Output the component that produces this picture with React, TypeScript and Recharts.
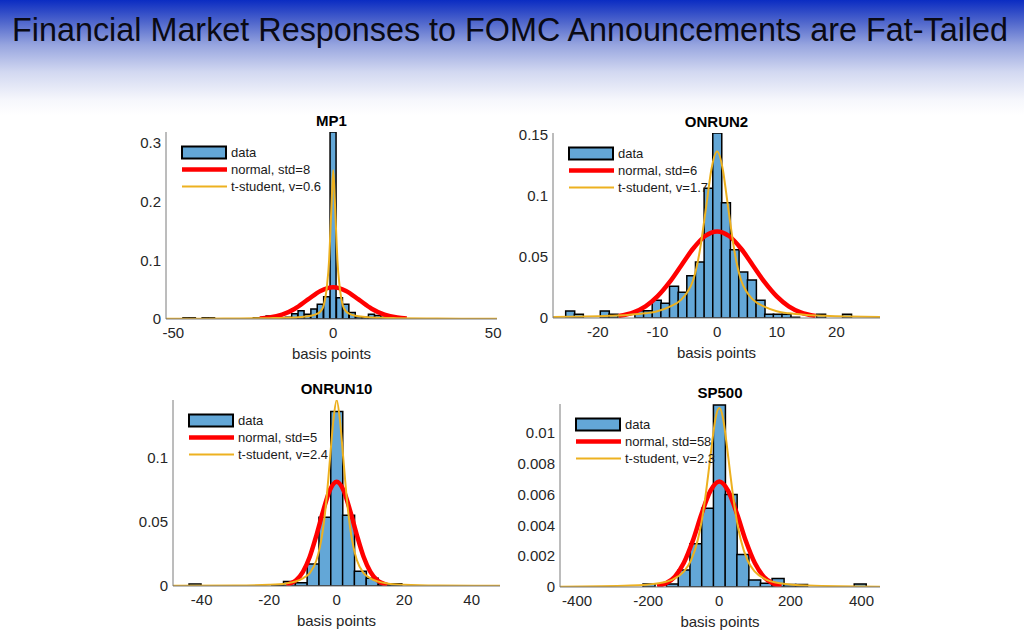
import React from "react";
import { ComposedChart, Bar, Line, XAxis, YAxis, Legend } from "recharts";

type Pt = [number, number];

// histogram bins: [bin centre, density]
const mp1Hist: Pt[] = [
  [-46, 0.002], [-44, 0.002], [-40, 0.002], [-38, 0.002], [-24, 0.002], [-22, 0.002],
  [-20, 0.005], [-18, 0.002], [-16, 0.002], [-14, 0.003], [-12, 0.009], [-10, 0.014],
  [-8, 0.008], [-6, 0.017], [-4, 0.025], [-2, 0.038], [0, 0.318], [2, 0.036], [4, 0.025],
  [6, 0.011], [8, 0.004], [10, 0.003], [12, 0.008], [14, 0.006], [16, 0.003], [18, 0.002],
];
const mp1Normal: Pt[] = [
  [-23, 0.0009], [-20, 0.0024], [-16, 0.0073], [-12, 0.0175], [-8, 0.0328], [-4, 0.0477],
  [0, 0.054], [4, 0.0477], [8, 0.0328], [12, 0.0175], [16, 0.0073], [20, 0.0024], [23, 0.0009],
];
const mp1T: Pt[] = [
  [-52.3, 0.0003], [-40, 0.0005], [-30, 0.0008], [-20, 0.0014], [-15, 0.002], [-10, 0.0035],
  [-7, 0.0055], [-5, 0.009], [-4, 0.013], [-3, 0.023], [-2, 0.055], [-1.3, 0.1], [-1, 0.135],
  [-0.5, 0.2], [0, 0.253], [0.5, 0.2], [1, 0.135], [1.3, 0.1], [2, 0.055], [3, 0.023],
  [4, 0.013], [5, 0.009], [7, 0.0055], [10, 0.0035], [15, 0.002], [20, 0.0014], [30, 0.0008],
  [40, 0.0005], [51.2, 0.0003],
];

const onrun2Hist: Pt[] = [
  [-24.65, 0.0057], [-23.2, 0.003], [-18.85, 0.0057], [-17.4, 0.003], [-13.05, 0.006],
  [-11.6, 0.006], [-10.15, 0.0144], [-8.7, 0.012], [-7.25, 0.026], [-5.8, 0.021],
  [-4.35, 0.0345], [-2.9, 0.0457], [-1.45, 0.106], [0, 0.151], [1.45, 0.094], [2.9, 0.0557],
  [4.35, 0.0375], [5.8, 0.031], [7.25, 0.0144], [8.7, 0.003], [10.15, 0.003], [11.6, 0.003],
  [13.05, 0.0006], [17.4, 0.003], [21.75, 0.003],
];
const onrun2Normal: Pt[] = [
  [-16.5, 0.0016], [-14, 0.0046], [-12, 0.0095], [-10, 0.0176], [-8, 0.029], [-6, 0.0429],
  [-4, 0.0567], [-2, 0.0669], [0, 0.0707], [2, 0.0669], [4, 0.0567], [6, 0.0429], [8, 0.029],
  [10, 0.0176], [12, 0.0095], [14, 0.0046], [16.5, 0.0016],
];
const onrun2T: Pt[] = [
  [-27.5, 0.0008], [-22, 0.0012], [-18, 0.0018], [-15, 0.0025], [-12, 0.0038], [-10, 0.0055],
  [-8, 0.009], [-6, 0.015], [-5, 0.021], [-4, 0.031], [-3, 0.052], [-2, 0.085], [-1.5, 0.103],
  [-1, 0.12], [0, 0.136], [1, 0.12], [1.5, 0.103], [2, 0.085], [3, 0.052], [4, 0.031],
  [5, 0.021], [6, 0.015], [8, 0.009], [10, 0.0055], [12, 0.0038], [15, 0.0025], [18, 0.0018],
  [22, 0.0012], [27.3, 0.0008],
];

const onrun10Hist: Pt[] = [
  [-42, 0.0015], [-17.5, 0.0008], [-14, 0.0035], [-10.5, 0.0025], [-7, 0.017], [-3.5, 0.0535],
  [0, 0.1355], [3.5, 0.055], [7, 0.0115], [10.5, 0.006], [14, 0.0008], [17.5, 0.0018],
];
const onrun10Normal: Pt[] = [
  [-15, 0.0009], [-12, 0.0045], [-10, 0.011], [-8, 0.0225], [-6, 0.0394], [-4, 0.0583],
  [-2, 0.0746], [0, 0.081], [2, 0.0746], [4, 0.0583], [6, 0.0394], [8, 0.0225], [10, 0.011],
  [12, 0.0045], [15, 0.0009],
];
const onrun10T: Pt[] = [
  [-48.5, 0.0001], [-30, 0.0003], [-20, 0.0009], [-15, 0.002], [-10, 0.006], [-8, 0.01],
  [-6, 0.02], [-5, 0.03], [-4, 0.045], [-3, 0.068], [-2, 0.098], [-1, 0.128], [0, 0.1445],
  [1, 0.128], [2, 0.098], [3, 0.068], [4, 0.045], [5, 0.03], [6, 0.02], [8, 0.01], [10, 0.006],
  [15, 0.002], [20, 0.0009], [30, 0.0003], [48.4, 0.0001],
];

const sp500Hist: Pt[] = [
  [-198, 0.0002], [-165, 0], [-132, 0.0002], [-99, 0.0011], [-66, 0.0028], [-33, 0.0051],
  [0, 0.0118], [33, 0.006], [66, 0.0021], [99, 0.00045], [132, 0.00025], [165, 0.00055],
  [198, 0.00017], [231, 0.00017], [396, 0.0002],
];
const sp500Normal: Pt[] = [
  [-175, 0.00007], [-150, 0.00024], [-125, 0.00067], [-100, 0.00155], [-75, 0.00296],
  [-50, 0.00473], [-25, 0.00623], [0, 0.00684], [25, 0.00623], [50, 0.00473], [75, 0.00296],
  [100, 0.00155], [125, 0.00067], [150, 0.00024], [175, 0.00007],
];
const sp500T: Pt[] = [
  [-448, 0.00002], [-250, 0.0001], [-170, 0.00025], [-130, 0.0005], [-100, 0.001],
  [-80, 0.0017], [-60, 0.0031], [-50, 0.0042], [-40, 0.0057], [-30, 0.0075], [-20, 0.0094],
  [-10, 0.011], [0, 0.0116], [10, 0.011], [20, 0.0094], [30, 0.0075], [40, 0.0057],
  [50, 0.0042], [60, 0.0031], [80, 0.0017], [100, 0.001], [130, 0.0005], [170, 0.00025],
  [250, 0.0001], [452, 0.00002],
];

const BAR_FILL = "#63a7d7";
const RED = "#ff0000";
const GOLD = "#edb120";
const FONT = "'Liberation Sans', Arial, Helvetica, sans-serif";

interface PanelProps {
  title: string;
  hist: Pt[];
  normal: Pt[];
  tdist: Pt[];
  normalLabel: string;
  tLabel: string;
  xDomain: [number, number];
  yDomain: [number, number];
  xTicks: number[];
  yTicks: number[];
  left: number;
  top: number;
  plotW: number;
  plotH: number;
}

const toRows = (pts: Pt[]) => pts.map(([x, y]) => ({ x, y }));

function Panel(p: PanelProps) {
  const renderLegend = () => (
    <div style={{ fontFamily: FONT, fontSize: 13, color: "#1a1a1a" }}>
      {[
        { label: "data", kind: "bar" },
        { label: p.normalLabel, kind: "normal" },
        { label: p.tLabel, kind: "t" },
      ].map((r) => (
        <div key={r.kind} style={{ display: "flex", alignItems: "center", height: 17 }}>
          <svg width={47} height={17}>
            {r.kind === "bar" ? (
              <rect x={1} y={2.5} width={44} height={12} fill={BAR_FILL} stroke="#000" strokeWidth={2} />
            ) : (
              <line
                x1={1}
                x2={46}
                y1={8.5}
                y2={8.5}
                stroke={r.kind === "normal" ? RED : GOLD}
                strokeWidth={r.kind === "normal" ? 4.5 : 2}
              />
            )}
          </svg>
          <span style={{ marginLeft: 3, whiteSpace: "nowrap" }}>{r.label}</span>
        </div>
      ))}
    </div>
  );

  return (
    <div style={{ position: "absolute", left: p.left - 60, top: p.top - 30 }}>
      <div
        style={{
          position: "absolute",
          left: 60,
          top: 11,
          width: p.plotW,
          textAlign: "center",
          fontFamily: FONT,
          fontWeight: "bold",
          fontSize: 15,
          lineHeight: "16px",
          color: "#000",
        }}
      >
        {p.title}
      </div>
      <ComposedChart
        width={p.plotW + 80}
        height={p.plotH + 75}
        margin={{ top: 30, right: 20, bottom: 5, left: 10 }}
        data={toRows(p.hist)}
        barCategoryGap={0}
        barGap={0}
      >
        <XAxis
          dataKey="x"
          type="number"
          domain={p.xDomain}
          ticks={p.xTicks}
          allowDataOverflow
          height={40}
          tickLine={false}
          tickSize={4}
          tickMargin={4}
          axisLine={{ stroke: "#7a7a7a" }}
          tick={{ fill: "#262626", fontSize: 15, fontFamily: FONT }}
          label={{
            value: "basis points",
            position: "insideBottom",
            offset: 0,
            fill: "#262626",
            fontSize: 15,
            fontFamily: FONT,
          }}
        />
        <XAxis xAxisId="fit" dataKey="x" type="number" domain={p.xDomain} allowDataOverflow hide />
        <YAxis
          type="number"
          domain={p.yDomain}
          ticks={p.yTicks}
          allowDataOverflow
          width={50}
          tickLine={false}
          tickSize={4}
          tickMargin={1}
          axisLine={{ stroke: "#7a7a7a" }}
          tick={{ fill: "#262626", fontSize: 15, fontFamily: FONT }}
        />
        <Legend
          layout="horizontal"
          verticalAlign="middle"
          align="center"
          content={renderLegend}
          wrapperStyle={{ left: 75, top: 42, width: "auto", height: "auto" }}
        />
        <Bar dataKey="y" fill={BAR_FILL} stroke="#000" strokeWidth={1.5} isAnimationActive={false} />
        <Line
          xAxisId="fit"
          data={toRows(p.normal)}
          dataKey="y"
          type="monotone"
          stroke={RED}
          strokeWidth={4.5}
          dot={false}
          activeDot={false}
          isAnimationActive={false}
        />
        <Line
          xAxisId="fit"
          data={toRows(p.tdist)}
          dataKey="y"
          type="monotone"
          stroke={GOLD}
          strokeWidth={2}
          dot={false}
          activeDot={false}
          isAnimationActive={false}
        />
      </ComposedChart>
    </div>
  );
}

export default function App() {
  return (
    <div
      style={{
        position: "absolute",
        left: 0,
        top: 0,
        width: 1024,
        height: 640,
        overflow: "hidden",
        background:
          "linear-gradient(to bottom, #0b2cc2 0px, #4f66cc 22px, #97a5df 45px, #d2d8f1 72px, #f6f7fc 100px, #ffffff 115px)",
      }}
    >
      <svg width={1024} height={60} style={{ position: "absolute", left: 0, top: 0 }}>
        <text
          x={12}
          y={41}
          textLength={996}
          lengthAdjust="spacingAndGlyphs"
          fontFamily="'Liberation Sans', Arial, sans-serif"
          fontSize={32.5}
          fill="#0a0a14"
        >
          Financial Market Responses to FOMC Announcements are Fat-Tailed
        </text>
      </svg>
      <Panel
        title="MP1"
        hist={mp1Hist}
        normal={mp1Normal}
        tdist={mp1T}
        normalLabel="normal, std=8"
        tLabel="t-student, v=0.6"
        xDomain={[-52.3, 51.2]}
        yDomain={[0, 0.318]}
        xTicks={[-50, 0, 50]}
        yTicks={[0, 0.1, 0.2, 0.3]}
        left={166}
        top={132}
        plotW={331}
        plotH={187}
      />
      <Panel
        title="ONRUN2"
        hist={onrun2Hist}
        normal={onrun2Normal}
        tdist={onrun2T}
        normalLabel="normal, std=6"
        tLabel="t-student, v=1.7"
        xDomain={[-27.5, 27.3]}
        yDomain={[0, 0.151]}
        xTicks={[-20, -10, 0, 10, 20]}
        yTicks={[0, 0.05, 0.1, 0.15]}
        left={553}
        top={133}
        plotW={327}
        plotH={185}
      />
      <Panel
        title="ONRUN10"
        hist={onrun10Hist}
        normal={onrun10Normal}
        tdist={onrun10T}
        normalLabel="normal, std=5"
        tLabel="t-student, v=2.4"
        xDomain={[-48.5, 48.4]}
        yDomain={[0, 0.1445]}
        xTicks={[-40, -20, 0, 20, 40]}
        yTicks={[0, 0.05, 0.1]}
        left={173}
        top={400}
        plotW={327}
        plotH={186}
      />
      <Panel
        title="SP500"
        hist={sp500Hist}
        normal={sp500Normal}
        tdist={sp500T}
        normalLabel="normal, std=58"
        tLabel="t-student, v=2.3"
        xDomain={[-448, 452]}
        yDomain={[0, 0.01186]}
        xTicks={[-400, -200, 0, 200, 400]}
        yTicks={[0, 0.002, 0.004, 0.006, 0.008, 0.01]}
        left={560}
        top={404}
        plotW={320}
        plotH={183}
      />
    </div>
  );
}
